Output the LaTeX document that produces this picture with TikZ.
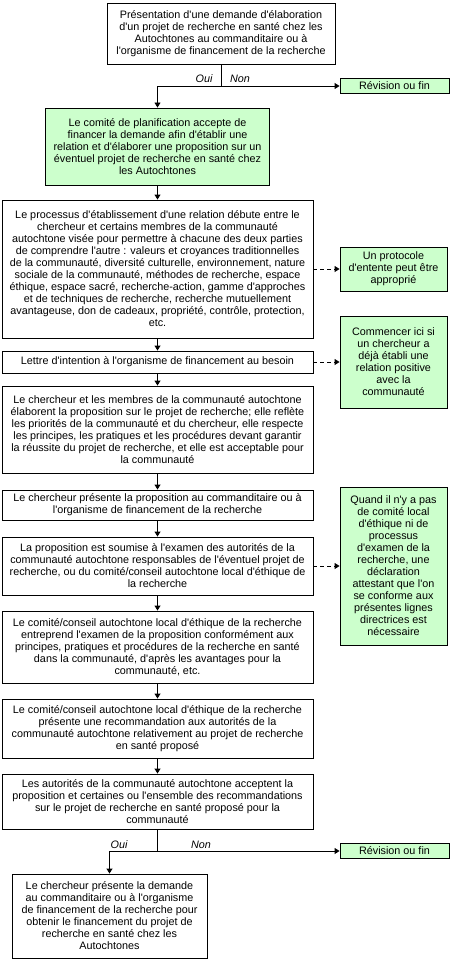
\documentclass[tikz,border=0pt]{standalone}
\usepackage{fontspec}
\setmainfont{Liberation Sans}[Ligatures=TeXOff]
\usetikzlibrary{arrows.meta}
\definecolor{notegreen}{HTML}{CCFFCC}

\begin{document}
\begin{tikzpicture}[
    x=1pt, y=-1pt,
    every node/.style={font=\fontsize{10.8}{12}\selectfont},
    stepbox/.style={rectangle, draw, line width=0.9pt, align=center, inner sep=0pt},
    greenbox/.style={stepbox, fill=notegreen},
    answer/.style={font=\fontsize{10.8}{12}\selectfont\itshape},
    flow/.style={line width=0.9pt, -{Triangle[width=6pt,length=5pt]}},
    dashflow/.style={flow, dash pattern=on 4pt off 3pt}
]
    \useasboundingbox (0,0) rectangle (450,960);

    % Main column
    \node[stepbox, minimum width=228pt, minimum height=61pt] (b1) at (221,33.5)
        {Présentation d'une demande d'élaboration\\d'un projet de recherche en santé chez les\\Autochtones au commanditaire ou à\\l'organisme de financement de la recherche};
    \node[greenbox, minimum width=224pt, minimum height=77pt] (b2) at (157.5,146.5)
        {Le comité de planification accepte de\\financer la demande afin d'établir une\\relation et d'élaborer une proposition sur un\\éventuel projet de recherche en santé chez\\les Autochtones};
    \node[stepbox, minimum width=311pt, minimum height=138pt] (b3) at (157.5,269)
        {Le processus d'établissement d'une relation débute entre le\\chercheur et certains membres de la communauté\\autochtone visée pour permettre à chacune des deux parties\\de comprendre l'autre : valeurs et croyances traditionnelles\\de la communauté, diversité culturelle, environnement, nature\\sociale de la communauté, méthodes de recherche, espace\\éthique, espace sacré, recherche-action, gamme d'approches\\et de techniques de recherche, recherche mutuellement\\avantageuse, don de cadeaux, propriété, contrôle, protection,\\etc.};
    \node[stepbox, minimum width=311pt, minimum height=22pt] (b4) at (157.5,362)
        {Lettre d'intention à l'organisme de financement au besoin};
    \node[stepbox, minimum width=311pt, minimum height=87pt] (b5) at (157.5,429.5)
        {Le chercheur et les membres de la communauté autochtone\\élaborent la proposition sur le projet de recherche; elle reflète\\les priorités de la communauté et du chercheur, elle respecte\\les principes, les pratiques et les procédures devant garantir\\la réussite du projet de recherche, et elle est acceptable pour\\la communauté};
    \node[stepbox, minimum width=311pt, minimum height=30pt] (b6) at (157.5,505)
        {Le chercheur présente la proposition au commanditaire ou à\\l'organisme de financement de la recherche};
    \node[stepbox, minimum width=311pt, minimum height=58pt] (b7) at (157.5,566)
        {La proposition est soumise à l'examen des autorités de la\\communauté autochtone responsables de l'éventuel projet de\\recherche, ou du comité/conseil autochtone local d'éthique de\\la recherche};
    \node[stepbox, minimum width=311pt, minimum height=72pt] (b8) at (157.5,647)
        {Le comité/conseil autochtone local d'éthique de la recherche\\entreprend l'examen de la proposition conformément aux\\principes, pratiques et procédures de la recherche en santé\\dans la communauté, d'après les avantages pour la\\communauté, etc.};
    \node[stepbox, minimum width=311pt, minimum height=59pt] (b9) at (157.5,728.5)
        {Le comité/conseil autochtone local d'éthique de la recherche\\présente une recommandation aux autorités de la\\communauté autochtone relativement au projet de recherche\\en santé proposé};
    \node[stepbox, minimum width=311pt, minimum height=55pt] (b10) at (157.5,801.5)
        {Les autorités de la communauté autochtone acceptent la\\proposition et certaines ou l'ensemble des recommandations\\sur le projet de recherche en santé proposé pour la\\communauté};
    \node[stepbox, minimum width=195pt, minimum height=84pt] (b11) at (109.5,916)
        {Le chercheur présente la demande\\au commanditaire ou à l'organisme\\de financement de la recherche pour\\obtenir le financement du projet de\\recherche en santé chez les\\Autochtones};

    % Side notes
    \node[greenbox, minimum width=109pt, minimum height=15pt] (rev1) at (394.5,86) {Révision ou fin};
    \node[greenbox, minimum width=107pt, minimum height=44pt] (prot) at (393.5,269)
        {Un protocole\\d'entente peut être\\approprié};
    \node[greenbox, minimum width=107pt, minimum height=92pt] (comm) at (393.5,362)
        {Commencer ici si\\un chercheur a\\déjà établi une\\relation positive\\avec la\\communauté};
    \node[greenbox, minimum width=107pt, minimum height=158pt] (quand) at (393.5,566)
        {Quand il n'y a pas\\de comité local\\d'éthique ni de\\processus\\d'examen de la\\recherche, une\\déclaration\\attestant que l'on\\se conforme aux\\présentes lignes\\directrices est\\nécessaire};
    \node[greenbox, minimum width=109pt, minimum height=15pt] (rev2) at (394.5,851) {Révision ou fin};

    % Forks
    \coordinate (fork1) at (221,86);
    \coordinate (fork2) at (157.5,851);
    \node[answer] (oui1) at (204,79) {Oui};
    \node[answer] (non1) at (240,79) {Non};
    \node[answer] (oui2) at (119,845) {Oui};
    \node[answer] (non2) at (201,845) {Non};

    % Edges
    \draw[line width=0.9pt] (b1.south) -- (fork1);
    \draw[flow] (fork1) -| (b2.north);
    \draw[flow] (fork1) -- (rev1.west);
    \draw[flow] (b2) -- (b3);
    \draw[flow] (b3) -- (b4);
    \draw[flow] (b4) -- (b5);
    \draw[flow] (b5) -- (b6);
    \draw[flow] (b6) -- (b7);
    \draw[flow] (b7) -- (b8);
    \draw[flow] (b8) -- (b9);
    \draw[flow] (b9) -- (b10);
    \draw[line width=0.9pt] (b10.south) -- (fork2);
    \draw[flow] (fork2) -| (b11.north);
    \draw[flow] (fork2) -- (rev2.west);

    % Dashed side links
    \draw[dashflow] (b3.east) -- (prot.west);
    \draw[dashflow] (b4.east) -- (comm.west);
    \draw[dashflow] (b7.east) -- (quand.west);

\end{tikzpicture}
\end{document}
